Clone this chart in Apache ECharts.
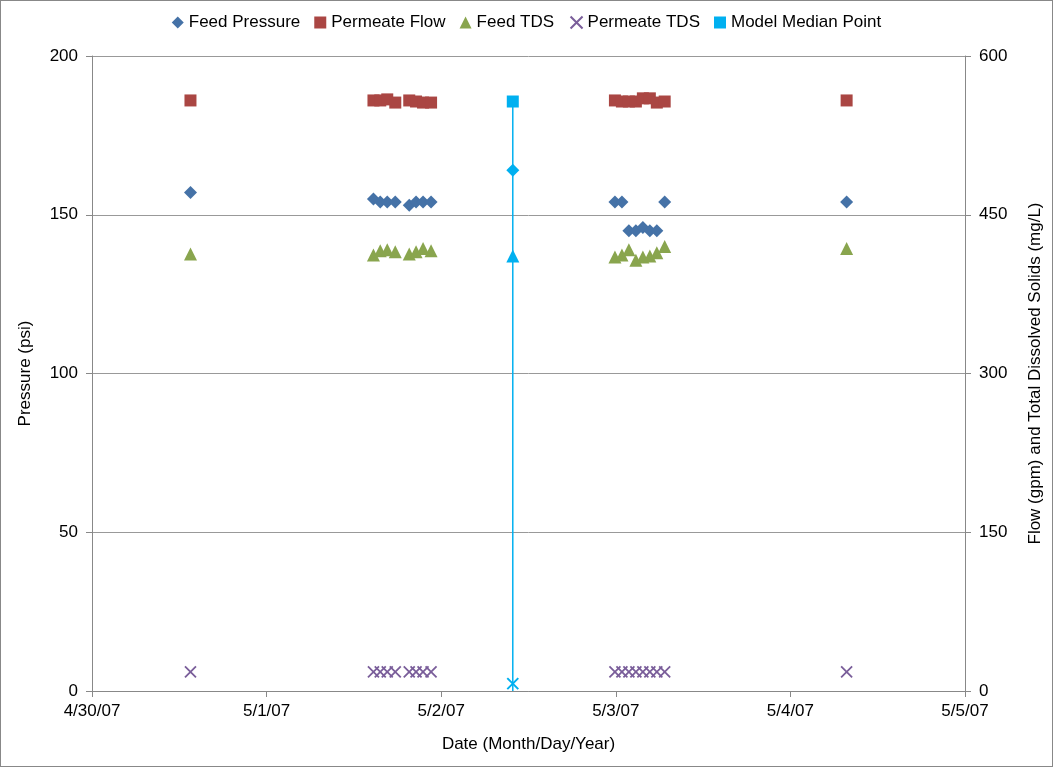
<!DOCTYPE html>
<html>
<head>
<meta charset="utf-8">
<script src="https://cdn.jsdelivr.net/npm/echarts@6/dist/echarts.min.js"></script>
<style>
html,body{margin:0;padding:0;background:#fff}
#chart{width:1051px;height:765px;border:1px solid #888}
</style>
</head>
<body>
<div id="chart"></div>
<script>
// x values are days after 4/30/07 00:00
const dateLabels = ['4/30/07', '5/1/07', '5/2/07', '5/3/07', '5/4/07', '5/5/07'];
const days = [0.564, 1.612, 1.651, 1.691, 1.737, 1.817, 1.856, 1.896, 1.942,
  2.995, 3.035, 3.075, 3.115, 3.155, 3.195, 3.235, 3.280, 4.322];
const feedPressure = [157, 155, 154, 154, 154, 153, 154, 154, 154,
  154, 154, 145, 145, 146, 145, 145, 154, 154];
const permeateFlow = [558, 558, 558, 559, 556, 558, 557, 556, 556,
  558, 557, 557, 557, 560, 560, 556, 557, 558];
const feedTDS = [413, 412, 416, 417, 415, 413, 415, 418, 416,
  410, 412, 417, 407, 410, 411, 414, 420, 418];
const permeateTDS = [18, 18, 18, 18, 18, 18, 18, 18, 18,
  18, 18, 18, 18, 18, 18, 18, 18, 18];
const medianDay = 2.41;
const medianPressure = 164;
const medianFlow = 557;
const medianFeedTDS = 411;
const medianPermTDS = 7;

const cross = 'path://M0,0L10,10M10,0L0,10';
const pts = vals => days.map((d, i) => [d, vals[i]]);
const font = 'Liberation Sans, Arial, sans-serif';

let myChart = echarts.init(document.getElementById('chart'));
myChart.setOption({
  textStyle: {fontFamily: font},
  legend: {
    top: 8, left: 'center', itemGap: 14, itemWidth: 12, itemHeight: 12,
    textStyle: {fontSize: 17, color: '#000', fontFamily: font},
    data: ['Feed Pressure', 'Permeate Flow', 'Feed TDS', 'Permeate TDS',
      {name: 'Model Median Point', icon: 'rect'}]
  },
  grid: {left: 91, right: 84, top: 55, bottom: 75},
  xAxis: {
    type: 'value', min: 0, max: 5, interval: 1,
    name: 'Date (Month/Day/Year)', nameLocation: 'middle', nameGap: 45,
    nameTextStyle: {fontSize: 17, color: '#000'},
    axisLine: {lineStyle: {color: '#888'}},
    axisTick: {show: true, length: 6, lineStyle: {color: '#888'}},
    splitLine: {show: false},
    axisLabel: {fontSize: 17, color: '#000', margin: 12, formatter: v => dateLabels[Math.round(v)]}
  },
  yAxis: [{
    type: 'value', min: 0, max: 200, interval: 50,
    name: 'Pressure (psi)', nameLocation: 'middle', nameGap: 58,
    nameTextStyle: {fontSize: 17, color: '#000'},
    axisLine: {show: true, lineStyle: {color: '#888'}},
    axisTick: {show: true, length: 6, lineStyle: {color: '#888'}},
    splitLine: {lineStyle: {color: '#999'}},
    axisLabel: {fontSize: 17, color: '#000', margin: 14}
  }, {
    type: 'value', min: 0, max: 600, interval: 150,
    name: 'Flow (gpm) and Total Dissolved Solids (mg/L)', nameLocation: 'middle', nameGap: 62,
    nameRotate: 90,
    nameTextStyle: {fontSize: 17, color: '#000'},
    axisLine: {show: true, lineStyle: {color: '#888'}},
    axisTick: {show: true, length: 6, lineStyle: {color: '#888'}},
    splitLine: {show: false},
    axisLabel: {fontSize: 17, color: '#000', margin: 14}
  }],
  series: [
    {name: 'Feed Pressure', type: 'scatter', symbol: 'diamond', symbolSize: 13,
      itemStyle: {color: '#4572A7', opacity: 1}, data: pts(feedPressure)},
    {name: 'Permeate Flow', type: 'scatter', symbol: 'rect', symbolSize: 12, yAxisIndex: 1,
      itemStyle: {color: '#AA4643', opacity: 1}, data: pts(permeateFlow)},
    {name: 'Feed TDS', type: 'scatter', symbol: 'triangle', symbolSize: 13, yAxisIndex: 1,
      itemStyle: {color: '#89A54E', opacity: 1}, data: pts(feedTDS)},
    {name: 'Permeate TDS', type: 'scatter', symbol: cross, symbolSize: 11, yAxisIndex: 1,
      itemStyle: {color: 'none', borderColor: '#7A5E9A', borderWidth: 1.8, opacity: 1}, data: pts(permeateTDS)},
    {name: 'Model Median Point', type: 'line', yAxisIndex: 1, symbol: 'none',
      lineStyle: {color: '#00B0F0', width: 1.5}, itemStyle: {color: '#00B0F0'},
      data: [[medianDay, 0], [medianDay, medianFlow]]},
    {name: 'Model Median Point', type: 'scatter', symbol: 'rect', symbolSize: 12, yAxisIndex: 1,
      itemStyle: {color: '#00B0F0', opacity: 1}, data: [[medianDay, medianFlow]]},
    {name: 'Model Median Point', type: 'scatter', symbol: 'diamond', symbolSize: 13,
      itemStyle: {color: '#00B0F0', opacity: 1}, data: [[medianDay, medianPressure]]},
    {name: 'Model Median Point', type: 'scatter', symbol: 'triangle', symbolSize: 13, yAxisIndex: 1,
      itemStyle: {color: '#00B0F0', opacity: 1}, data: [[medianDay, medianFeedTDS]]},
    {name: 'Model Median Point', type: 'scatter', symbol: cross, symbolSize: 11, yAxisIndex: 1,
      itemStyle: {color: 'none', borderColor: '#00B0F0', borderWidth: 2, opacity: 1}, data: [[medianDay, medianPermTDS]]}
  ]
});
</script>
</body>
</html>
